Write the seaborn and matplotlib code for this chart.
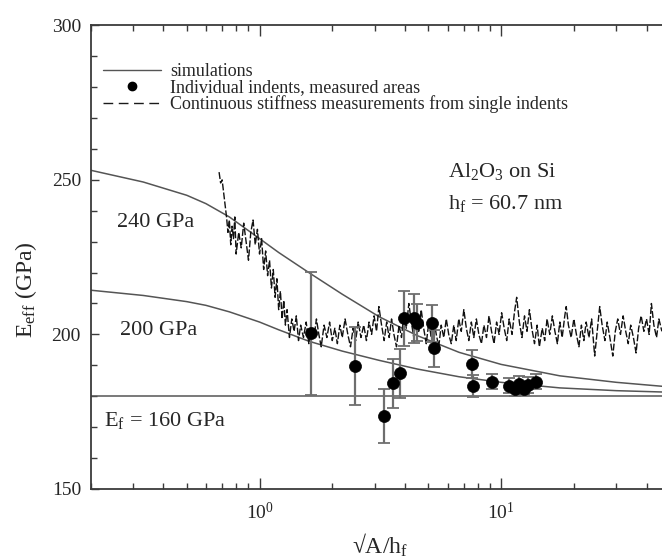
import numpy as np
import pandas as pd
import matplotlib
matplotlib.use("Agg")
import matplotlib.pyplot as plt
import seaborn as sns
from matplotlib.ticker import LogLocator, MultipleLocator, NullFormatter
from matplotlib.lines import Line2D

# ---------------- data ----------------
sim_x = [0.2, 0.33, 0.5, 0.6, 0.75, 1.0, 1.2, 1.6, 2.2, 3.13, 4.5, 6.7, 10, 17.5, 30, 50]
sim_240 = [253.1, 249.3, 245.0, 242.3, 238.0, 231.0, 226.5, 220.0, 213.0, 205.7, 199.6, 194.2, 190.3, 186.6, 184.5, 183.0]
sim_200 = [214.3, 212.6, 210.6, 209.4, 207.3, 204.0, 201.5, 197.8, 194.6, 191.6, 188.8, 186.3, 184.5, 182.7, 181.8, 181.3]
sim_160 = [180.0] * len(sim_x)

pts_x = [1.64, 2.49, 3.29, 3.56, 3.83, 3.97, 4.37, 4.5, 5.20, 5.25, 7.58, 7.62, 9.18, 10.8, 11.4, 11.9, 12.4, 12.9, 13.9]
pts_E = [200.3, 189.8, 173.6, 184.2, 187.4, 205.2, 205.2, 203.8, 203.6, 195.5, 190.4, 183.3, 184.7, 183.4, 182.2, 184.0, 182.5, 183.6, 184.7]
pts_err = [20, 12.6, 8.8, 8, 8, 9, 8, 6, 6, 6, 4.5, 3.5, 2.5, 2.5, 2, 2.5, 2, 2.5, 2.5]

csm_x = [0.68, 0.69, 0.70, 0.71, 0.72, 0.73, 0.74, 0.75, 0.76, 0.77, 0.78, 0.79, 0.80, 0.82, 0.84,
         0.86, 0.88, 0.90, 0.92, 0.94, 0.96, 0.98, 1.00, 1.02, 1.04, 1.06, 1.08, 1.10,
         1.12, 1.14, 1.16, 1.18, 1.20, 1.22, 1.24, 1.26, 1.28, 1.30, 1.33, 1.36, 1.39, 1.42, 1.45,
         1.48, 1.52, 1.56, 1.60, 1.64, 1.68, 1.72, 1.76, 1.80, 1.85, 1.90, 1.95, 2.00, 2.05, 2.10,
         2.15, 2.20, 2.26, 2.32, 2.38, 2.44, 2.50, 2.56, 2.63, 2.70, 2.77, 2.84, 2.91, 2.98, 3.05,
         3.12, 3.20, 3.28, 3.36, 3.44, 3.52, 3.60, 3.69, 3.78, 3.87, 3.96, 4.05, 4.15, 4.25, 4.35,
         4.45, 4.56, 4.67, 4.78, 4.90, 5.02, 5.14, 5.26, 5.39, 5.52, 5.65, 5.79, 5.93, 6.07, 6.22,
         6.37, 6.52, 6.68, 6.84, 7.01, 7.18, 7.35, 7.53, 7.71, 7.90, 8.09, 8.29, 8.49, 8.70, 8.91,
         9.13, 9.35, 9.58, 9.81, 10.05, 10.3, 10.55, 10.8, 11.1, 11.35, 11.6, 11.9, 12.2, 12.5,
         12.8, 13.1, 13.4, 13.75, 14.1, 14.4, 14.8, 15.15, 15.5, 15.9, 16.3, 16.7, 17.1, 17.5,
         17.9, 18.35, 18.6, 19.0, 19.5, 20.0, 20.5, 21.0, 21.5, 22.0, 22.5, 23.1, 23.7, 24.4,
         25.0, 25.6, 26.2, 26.9, 27.5, 28.2, 29.0, 29.7, 30.4, 31.2, 32.0, 32.8, 33.6, 34.4,
         35.3, 36.2, 37.1, 38.0, 39.0, 40.0, 41.0, 41.9, 42.9, 44.0, 45.0, 46.3]
csm_E = [252.5, 249, 250, 246, 242, 238, 233, 237, 229, 235, 231, 238, 226, 233, 228,
         236, 230, 224, 233, 237, 229, 234, 226, 231, 221, 227, 219, 224,
         215, 221, 212, 218, 208, 214, 205, 211, 203, 208, 199, 205, 201, 206, 198,
         203, 199, 204, 197, 202, 199, 205, 200, 196, 203, 199, 204, 198, 202, 197,
         203, 199, 205, 200, 196, 202, 198, 204, 199, 203, 198, 204, 200, 206, 201,
         209, 203, 198, 204, 199, 205, 200, 196, 203, 199, 207, 202, 210, 204, 199,
         206, 201, 208, 202, 197, 204, 199, 205, 200, 196, 203, 199, 205, 200, 197,
         203, 198, 205, 201, 208, 202, 198, 204, 199, 205, 200, 197, 203, 199, 206,
         201, 197, 204, 200, 207, 202, 198, 205, 200, 207, 212, 204, 199, 206,
         201, 208, 202, 197, 203, 196, 202, 198, 205, 200, 206, 201, 197, 204,
         199, 206, 209, 203, 199, 205, 200, 196, 203, 198, 204, 199, 205, 193,
         201, 209, 203, 198, 204, 199, 193, 201, 205, 200, 206, 201, 197, 203,
         199, 194, 202, 206, 201, 205, 200, 210, 203, 199, 205, 201]

# ---------------- style ----------------
sns.set_style("ticks")
plt.rcParams["font.family"] = ["Liberation Serif", "DejaVu Serif"]
plt.rcParams["mathtext.fontset"] = "custom"
plt.rcParams["mathtext.rm"] = "Liberation Serif"
plt.rcParams["mathtext.it"] = "Liberation Serif:italic"

spine_c = "#3a3a3a"
curve_c = "#555555"

fig = plt.figure(figsize=(6.62, 5.58), dpi=100)
ax = fig.add_axes([0.137, 0.1237, 0.875, 0.831])

sim_df = pd.DataFrame({
    "x": sim_x * 3,
    "E": sim_240 + sim_200 + sim_160,
    "film": ["240"] * len(sim_x) + ["200"] * len(sim_x) + ["160"] * len(sim_x),
})
sns.lineplot(data=sim_df, x="x", y="E", hue="film", units="film", estimator=None,
             palette={"240": curve_c, "200": curve_c, "160": curve_c},
             linewidth=1.1, legend=False, ax=ax)

csm_df = pd.DataFrame({"x": csm_x, "E": csm_E})
sns.lineplot(data=csm_df, x="x", y="E", estimator=None, sort=False, color="#111111",
             linewidth=1.0, linestyle=(0, (5, 1.5)), ax=ax)

ax.errorbar(pts_x, pts_E, yerr=pts_err, fmt="none", ecolor="#6e6e6e",
            elinewidth=1.6, capsize=4, capthick=1.3, zorder=3)
pts_df = pd.DataFrame({"x": pts_x, "E": pts_E})
sns.scatterplot(data=pts_df, x="x", y="E", color="black", s=75, edgecolor="black",
                linewidth=0.5, zorder=4, ax=ax)

ax.set_xscale("log")
ax.set_xlim(0.2, 50)
ax.set_ylim(150, 300)

ax.xaxis.set_major_locator(LogLocator(base=10, numticks=10))
ax.xaxis.set_minor_locator(LogLocator(base=10, subs=np.arange(2, 10), numticks=20))
ax.xaxis.set_minor_formatter(NullFormatter())
ax.yaxis.set_major_locator(MultipleLocator(50))
ax.yaxis.set_minor_locator(MultipleLocator(10))

for side in ["left", "bottom", "top"]:
    ax.spines[side].set_color(spine_c)
    ax.spines[side].set_linewidth(1.3)
ax.spines["right"].set_visible(False)

ax.tick_params(which="both", direction="in", top=True, right=False, color=spine_c, width=1.0)
ax.tick_params(which="major", length=8, labelsize=14)
ax.tick_params(which="minor", length=4)
ax.tick_params(axis="x", which="major", pad=9)
ax.tick_params(axis="y", which="major", pad=7, length=6)

ax.set_xlabel("√A/h$_\\mathregular{f}$", fontsize=17)
ax.set_ylabel("E$_\\mathregular{eff}$ (GPa)", fontsize=17)
ax.yaxis.set_label_coords(-0.09, 0.43)
ax.xaxis.set_label_coords(0.5, -0.092)

# annotations
ax.text(0.256, 236.3, "240 GPa", fontsize=16, va="center", ha="left")
ax.text(0.265, 201.4, "200 GPa", fontsize=16, va="center", ha="left")
ax.text(0.226, 172.3, "E$_\\mathregular{f}$ = 160 GPa", fontsize=16, va="center", ha="left")
ax.text(6.0, 252.6, "Al$_\\mathregular{2}$O$_\\mathregular{3}$ on Si", fontsize=16, va="center", ha="left")
ax.text(6.0, 242.5, "h$_\\mathregular{f}$ = 60.7 nm", fontsize=16, va="center", ha="left")

handles = [
    Line2D([], [], color=curve_c, linewidth=1.0),
    Line2D([], [], color="black", marker="o", linestyle="none", markersize=6),
    Line2D([], [], color="#1a1a1a", linewidth=1.0, linestyle=(0, (7, 4))),
]
labels = ["simulations", "Individual indents, measured areas",
          "Continuous stiffness measurements from single indents"]
leg = ax.legend(handles, labels, loc="upper left", bbox_to_anchor=(0.022, 0.918),
                frameon=False, fontsize=13, handlelength=3.2, handletextpad=0.5,
                labelspacing=-0.05, borderpad=0, borderaxespad=0)

fig.savefig("out.png", dpi=100)
